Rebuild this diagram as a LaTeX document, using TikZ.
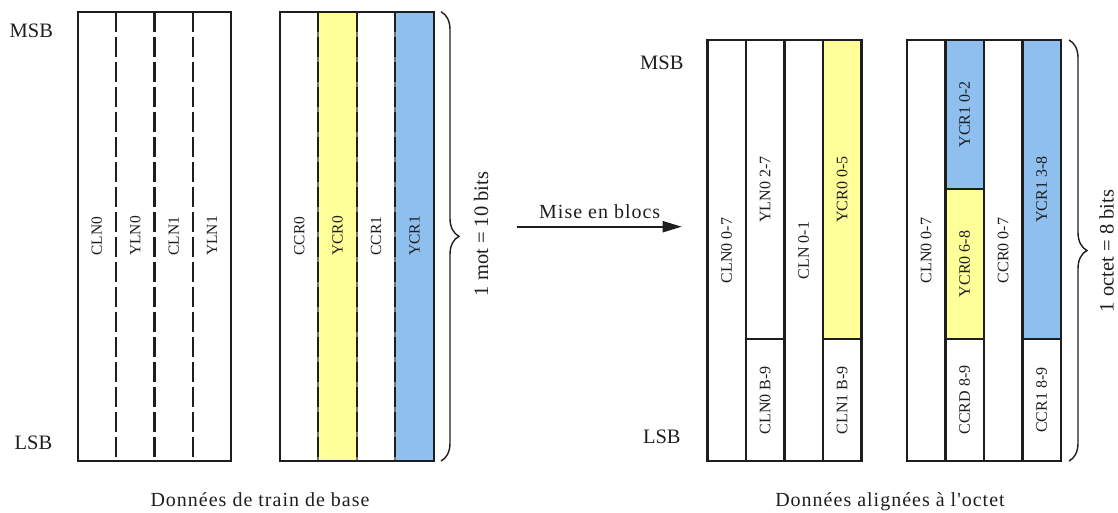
\documentclass[tikz,border=0pt]{standalone}
\usepackage{fontspec}
\setmainfont{Liberation Serif}
\newfontfamily\spacedfont[LetterSpace=5]{Liberation Serif}
\usetikzlibrary{arrows.meta,decorations.pathreplacing}
\definecolor{ylw}{HTML}{FFFF99}
\definecolor{blu}{HTML}{8EBFEF}
\definecolor{ink}{HTML}{1E1E1E}
\begin{document}
\begin{tikzpicture}[x=1pt,y=-1pt,
  boxline/.style={draw=ink, line width=2.1pt},
  dashsep/.style={draw=ink, line width=2.1pt, dash pattern=on 20pt off 5pt},
  graysep/.style={draw=black!55, line width=2.1pt},
  lblA/.style={rotate=90, text=ink, inner sep=0pt, font=\fontsize{15.5}{18}\selectfont},
  lblB/.style={rotate=90, text=ink, inner sep=0pt, font=\fontsize{16}{18}\selectfont},
  bigtxt/.style={text=ink, inner sep=0pt, font=\fontsize{20.5}{24}\selectfont},
  captxt/.style={text=ink, inner sep=0pt, font=\fontsize{20}{24}\spacedfont},
  bracestyle/.style={draw=ink, line width=1.4pt, decorate, decoration={brace, amplitude=18pt}}
]
\useasboundingbox (0,0) rectangle (1118,512);

% ---------- Group 1 ----------
\draw[boxline] (77.7,11.7) rectangle (231.3,461);
\foreach \x in {116.1,154.5,192.9} \draw[dashsep] (\x,11.7) -- (\x,461);

% ---------- Group 2 ----------
\fill[ylw] (318.4,11.7) rectangle (356.8,461);
\fill[blu] (395.3,11.7) rectangle (433.7,461);
\foreach \x in {318.4,356.8,395.3} {\draw[graysep] (\x,11.7) -- (\x,461); \draw[dashsep] (\x,11.7) -- (\x,461);}
\draw[boxline] (280,11.7) rectangle (433.7,461);

% labels left
\node[lblA] (l1) at (96.9,236) {CLN0};
\node[lblA] (l2) at (135.3,236) {YLN0};
\node[lblA] (l3) at (173.7,236) {CLN1};
\node[lblA] (l4) at (212.1,236) {YLN1};
\node[lblA] (l5) at (299.2,236) {CCR0};
\node[lblA] (l6) at (337.6,236) {YCR0};
\node[lblA] (l7) at (376.0,236) {CCR1};
\node[lblA] (l8) at (414.5,236) {YCR1};

\node[bigtxt] (msbL) at (31.3,31) {MSB};
\node[bigtxt] (lsbL) at (33.5,443) {LSB};

\coordinate (braceLtop) at (441,11.7);
\coordinate (braceLbot) at (441,461);
\draw[bracestyle] (braceLtop) -- (braceLbot);
\node[bigtxt, rotate=90] (motL) at (481,234) {1 mot = 10 bits};

\node[captxt] (capL) at (260,500) {Données de train de base};

% ---------- Arrow ----------
\coordinate (arrS) at (516.7,226.7);
\coordinate (arrE) at (681.7,226.7);
\draw[draw=ink, line width=2pt, -{Triangle[length=19pt,width=11pt]}] (arrS) -- (arrE);
\node[captxt, anchor=base] (mise) at (599.7,218.3) {Mise en blocs};

% ---------- Group 3 ----------
\fill[ylw] (823,40) rectangle (861.5,339.3);
\draw[boxline] (707.5,40) rectangle (861.5,461);
\foreach \x in {746,784.5,823} \draw[boxline] (\x,40) -- (\x,461);
\draw[boxline] (746,339.3) -- (784.5,339.3);
\draw[boxline] (823,339.3) -- (861.5,339.3);

\node[lblB] (r1) at (726.7,250.5) {CLN0 0-7};
\node[lblB] (r2) at (765.2,189.7) {YLN0 2-7};
\node[lblB] (r3) at (803.7,250.5) {CLN 0-1};
\node[lblB] (r4) at (842.2,189.7) {YCR0 0-5};
\node[lblB] (r5) at (765.2,400) {CLN0 B-9};
\node[lblB] (r6) at (842.2,400) {CLN1 B-9};

% ---------- Group 4 ----------
\fill[blu] (945.5,40) rectangle (984,188.7);
\fill[ylw] (945.5,188.7) rectangle (984,339.3);
\fill[blu] (1022.5,40) rectangle (1061,339.3);
\draw[boxline] (907,40) rectangle (1061,461);
\foreach \x in {945.5,984,1022.5} \draw[boxline] (\x,40) -- (\x,461);
\draw[boxline] (945.5,188.7) -- (984,188.7);
\draw[boxline] (945.5,339.3) -- (984,339.3);
\draw[boxline] (1022.5,339.3) -- (1061,339.3);

\node[lblB] (s1) at (926.2,250.5) {CLN0 0-7};
\node[lblB] (s2) at (964.7,114.3) {YCR1 0-2};
\node[lblB] (s3) at (964.7,264) {YCR0 6-8};
\node[lblB] (s4) at (1003.2,250.5) {CCR0 0-7};
\node[lblB] (s5) at (1041.7,189.7) {YCR1 3-8};
\node[lblB] (s6) at (964.7,400) {CCRD 8-9};
\node[lblB] (s7) at (1041.7,400) {CCR1 8-9};

\node[bigtxt] (msbR) at (661.8,63) {MSB};
\node[bigtxt] (lsbR) at (661.8,437) {LSB};

\coordinate (braceRtop) at (1069,40);
\coordinate (braceRbot) at (1069,461);
\draw[bracestyle] (braceRtop) -- (braceRbot);
\node[bigtxt, rotate=90] (octR) at (1106.7,251) {1 octet = 8 bits};

\node[captxt] (capR) at (890,502) {Données alignées à l'octet};
\end{tikzpicture}
\end{document}
